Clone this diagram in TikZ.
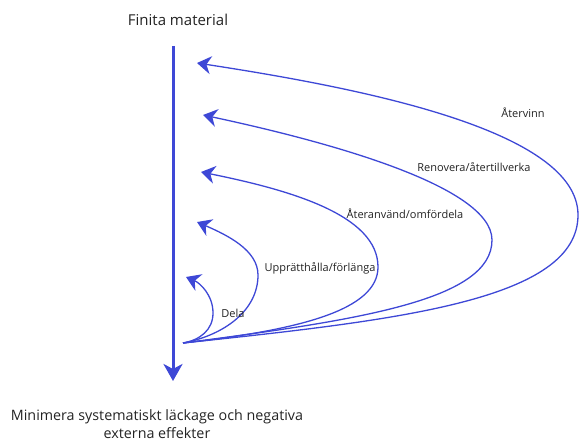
\documentclass[tikz,border=0pt]{standalone}
\usepackage{fontspec}
\setmainfont{Open Sans}
\usetikzlibrary{arrows.meta}
\definecolor{flowblue}{RGB}{62,72,214}
\definecolor{txtgray}{RGB}{35,35,35}
\tikzset{
  loopline/.style={draw=flowblue, line width=1.3pt, -{Stealth[length=14pt,width=18pt,inset=4.5pt]}},
  mainline/.style={draw=flowblue, line width=3pt, -{Stealth[length=17pt,width=19pt,inset=5pt]}},
  biglabel/.style={text=txtgray, font=\fontsize{14.3}{18}\selectfont, inner sep=0pt, anchor=base},
  smalllabel/.style={text=txtgray, font=\fontsize{11}{13}\selectfont, inner sep=0pt, anchor=base},
}
\begin{document}
\begin{tikzpicture}[x=1pt,y=-1pt]
\useasboundingbox (0,0) rectangle (579,441);
% coordinates
\coordinate (top) at (173,46);
\coordinate (bottom) at (173,381);
\coordinate (O) at (183,343);
\coordinate (T1) at (197,63);
\coordinate (T2) at (203,115);
\coordinate (T3) at (201,172);
\coordinate (T4) at (197,222);
\coordinate (T5) at (186,277);
\coordinate (R1) at (578,215);
\coordinate (R2) at (492,240);
\coordinate (R3) at (378,267);
\coordinate (R4) at (258,275);
\coordinate (R5) at (213,313);
% main arrow
\draw[mainline] (top) -- (bottom);
% loops
\draw[loopline] (O) .. controls (400,320) and (578,300) .. (R1)
                    .. controls (578,130) and (360,88) .. (T1);
\draw[loopline] (O) .. controls (360,320) and (492,300) .. (R2)
                    .. controls (492,185) and (320,140) .. (T2);
\draw[loopline] (O) .. controls (300,330) and (378,310) .. (R3)
                    .. controls (378,215) and (290,190) .. (T3);
\draw[loopline] (O) .. controls (225,335) and (258,310) .. (R4)
                    .. controls (258,250) and (227,235) .. (T4);
\draw[loopline] (O) .. controls (200,340) and (213,330) .. (R5)
                    .. controls (213,295) and (200,283) .. (T5);
% texts
\node[biglabel, font=\fontsize{15}{18}\selectfont] (finita) at (178,26) {Finita material};
\node[biglabel] (minimera) at (157,420) {Minimera systematiskt läckage och negativa};
\node[biglabel] (externa) at (157,438) {externa effekter};
\node[smalllabel] (l1) at (523,118) {Återvinn};
\node[smalllabel] (l2) at (474,172) {Renovera/återtillverka};
\node[smalllabel] (l3) at (405,219) {Återanvänd/omfördela};
\node[smalllabel] (l4) at (320,272) {Upprätthålla/förlänga};
\node[smalllabel] (l5) at (233,317) {Dela};
\end{tikzpicture}
\end{document}
